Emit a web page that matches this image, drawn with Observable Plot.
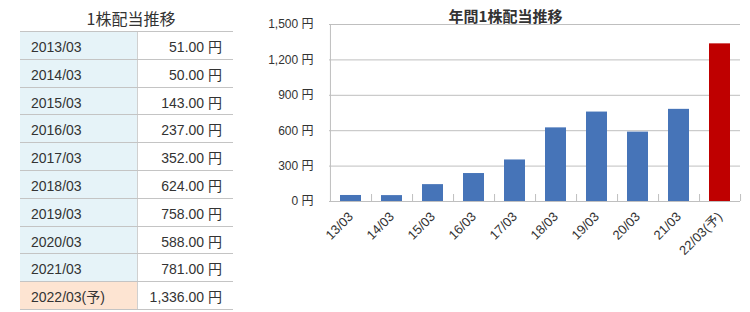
<!DOCTYPE html>
<html>
<head>
<meta charset="utf-8">
<script src="https://cdn.jsdelivr.net/npm/d3@7"></script>
<script src="https://cdn.jsdelivr.net/npm/@observablehq/plot@0.6"></script>
<style>
  html, body { margin: 0; padding: 0; background: #fff; }
  body { width: 750px; height: 312px; position: relative; overflow: hidden;
         font-family: "Liberation Sans", "Noto Sans CJK JP", sans-serif; color: #333; }
  #tableTitle { position: absolute; left: 20px; width: 222px; top: 7px; text-align: center;
                font-size: 16px; line-height: 22px; font-family: "Noto Sans CJK JP", sans-serif; }
  #tbl { position: absolute; left: 20px; top: 31px; width: 213px; border-top: 1px solid #c4c4c4; font-size: 14px; }
  .row { display: flex; height: 26.8px; border-bottom: 1px solid #c4c4c4; }
  .row .d { width: 106px; padding-left: 11px; background: #e6f3f8; border-right: 1px solid #d0d0d0;
            line-height: 30px; }
  .row .v { flex: 1; padding-right: 11px; text-align: right; line-height: 30px; }
  .row.f .d { background: #fde4d2; }
  #chartTitle { position: absolute; left: 250px; width: 511px; top: 5px; text-align: center;
                font-size: 15px; font-weight: bold; line-height: 22px; color: #333;
                font-family: "Noto Sans CJK JP", sans-serif; }
  #chart { position: absolute; left: 250px; top: 0; }
  #chart g[aria-label^="x-axis"] text { font-size: 13px; }
</style>
</head>
<body>
<div id="tableTitle"></div>
<div id="tbl"></div>
<div id="chartTitle"></div>
<div id="chart"></div>
<script>
// ---- data ----
const tableTitle = "1株配当推移";
const chartTitle = "年間1株配当推移";
const periods = ["2013/03","2014/03","2015/03","2016/03","2017/03","2018/03","2019/03","2020/03","2021/03","2022/03(予)"];
const shortLabels = ["13/03","14/03","15/03","16/03","17/03","18/03","19/03","20/03","21/03","22/03(予)"];
const dividends = [51, 50, 143, 237, 352, 624, 758, 588, 781, 1336];
const isForecast = [false, false, false, false, false, false, false, false, false, true];
const yTicks = [0, 300, 600, 900, 1200, 1500];
const unit = "円";

// ---- table ----
document.getElementById("tableTitle").textContent = tableTitle;
document.getElementById("chartTitle").textContent = chartTitle;
const tbl = document.getElementById("tbl");
const fmt = d3.format(",.2f");
periods.forEach((p, i) => {
  const row = document.createElement("div");
  row.className = "row" + (isForecast[i] ? " f" : "");
  const c1 = document.createElement("div"); c1.className = "d"; c1.textContent = p;
  const c2 = document.createElement("div"); c2.className = "v"; c2.textContent = fmt(dividends[i]) + " " + unit;
  row.appendChild(c1); row.appendChild(c2); tbl.appendChild(row);
});

// ---- chart ----
const data = shortLabels.map((label, i) => ({label, value: dividends[i], forecast: isForecast[i]}));
const W = 500, H = 312, ML = 79, MR = 10, MT = 24, MB = 111;
const step = (W - ML - MR) / shortLabels.length;
const grid = "#bfbfbf";

const chart = Plot.plot({
  width: W, height: H,
  marginLeft: ML, marginRight: MR, marginTop: MT, marginBottom: MB,
  style: {fontSize: "12px", fontFamily: "'Liberation Sans', 'Noto Sans CJK JP', sans-serif", color: "#333", background: "transparent"},
  x: {domain: shortLabels, paddingInner: 0.5, paddingOuter: 0.25, tickSize: 0, tickRotate: -45, tickPadding: 13, label: null},
  y: {domain: [0, 1500], ticks: yTicks, tickSize: 0, tickPadding: 16, label: null,
      tickFormat: d => d3.format(",")(d) + " " + unit},
  marks: [
    Plot.ruleY(yTicks, {stroke: grid, strokeWidth: 1}),
    Plot.ruleX([shortLabels[0]], {x: d => d, y1: 0, y2: 1500, dx: -step / 2, stroke: grid}),
    Plot.ruleX(shortLabels, {x: d => d, y1: 0, y2: 0, dx: step / 2, insetTop: -7, stroke: grid}),
    Plot.barY(data, {x: "label", y: "value", fill: d => d.forecast ? "#bf0000" : "#4674b8"})
  ]
});
document.getElementById("chart").appendChild(chart);
</script>
</body>
</html>
